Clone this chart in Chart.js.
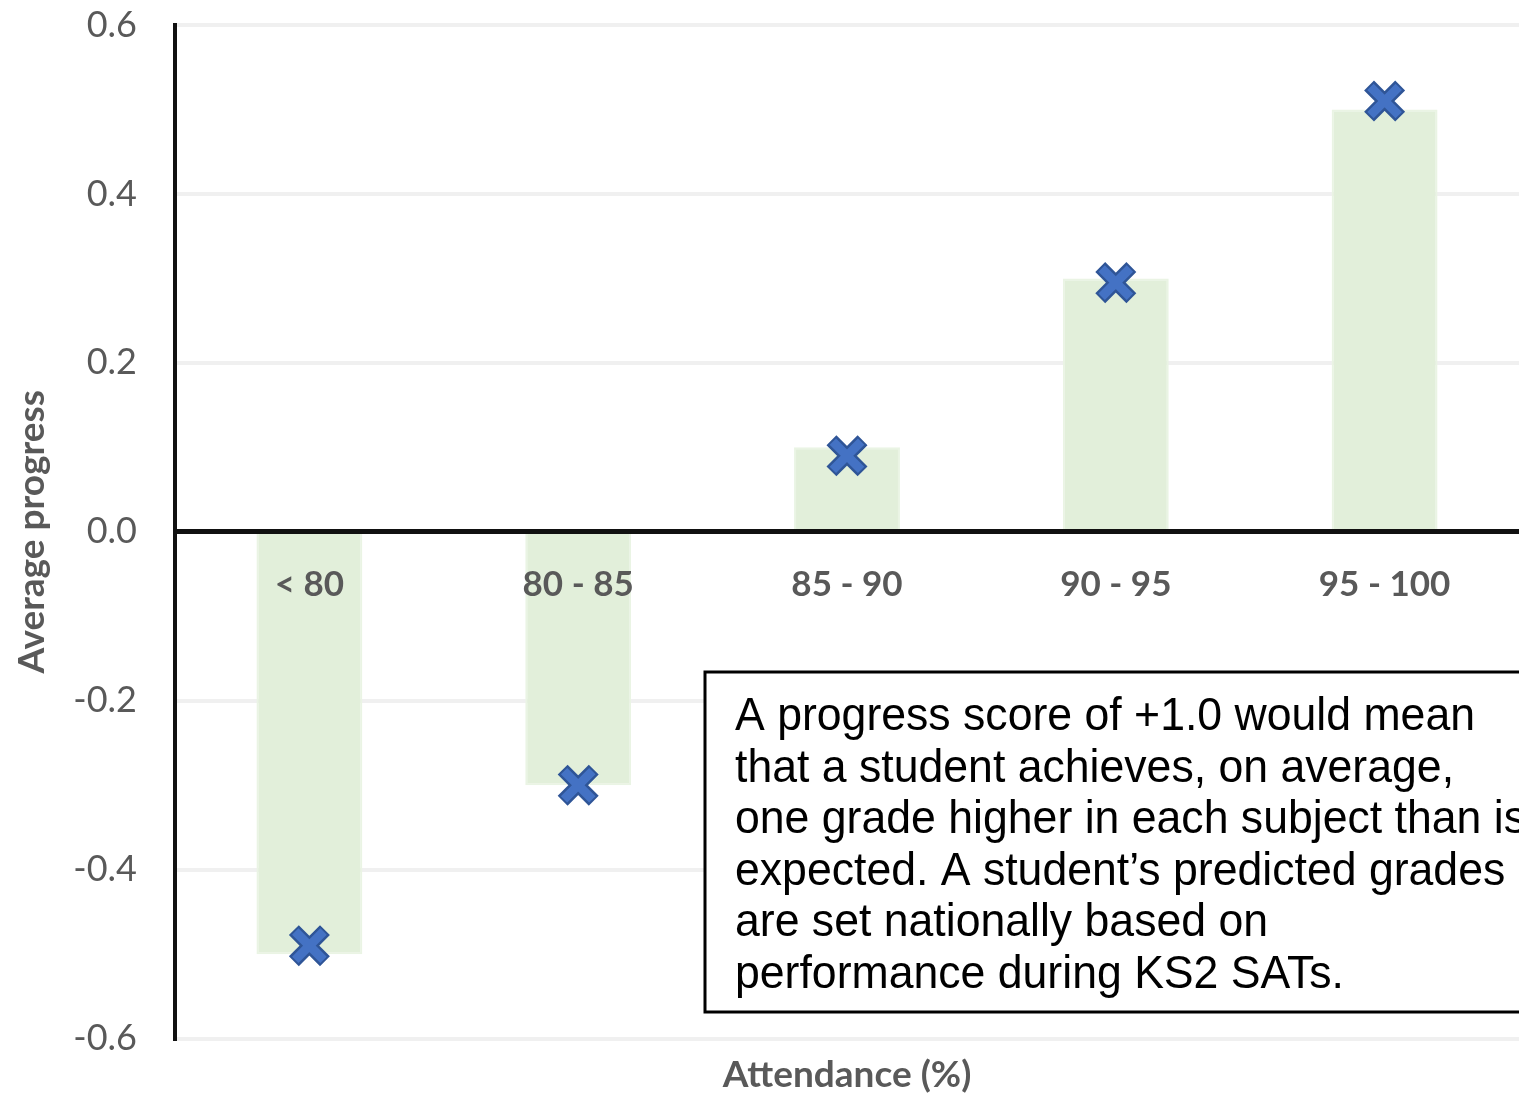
<!DOCTYPE html>
<html>
<head>
<meta charset="utf-8">
<script src="https://cdn.jsdelivr.net/npm/chart.js@4/dist/chart.umd.min.js"></script>
<style>
  html, body { margin: 0; padding: 0; background: #fff; overflow: hidden; }
  #wrap { width: 1519px; height: 1099px; position: relative; }
</style>
</head>
<body>
<div id="wrap"><canvas id="grafica"></canvas></div>
<script>
const categorias = ['< 80', '80 - 85', '85 - 90', '90 - 95', '95 - 100'];
const valoresBarras = [-0.5, -0.3, 0.1, 0.3, 0.5];
const valoresMarcas = [-0.49, -0.30, 0.09, 0.295, 0.51];
const ticksY = [-0.6, -0.4, -0.2, 0.0, 0.2, 0.4, 0.6];
const notaLineas = [
    'A progress score of +1.0 would mean',
    'that a student achieves, on average,',
    'one grade higher in each subject than is',
    'expected. A student\u2019s predicted grades',
    'are set nationally based on',
    'performance during KS2 SATs.'
];

const gris = '#595959';

// caja de texto con la nota
const notaPlugin = {
    id: 'nota',
    afterDraw(chart) {
        const ctx = chart.ctx;
        ctx.save();
        ctx.fillStyle = '#fff';
        ctx.fillRect(705, 672, 830, 340);
        ctx.strokeStyle = '#000';
        ctx.lineWidth = 3;
        ctx.strokeRect(705, 672, 830, 340);
        ctx.font = '46px "Liberation Sans", Arial, sans-serif';
        ctx.fillStyle = '#000';
        ctx.textBaseline = 'alphabetic';
        const sx = 740 / ctx.measureText(notaLineas[0]).width;
        notaLineas.forEach((linea, i) => {
            ctx.save();
            ctx.translate(735, 730 + i * 51.6);
            ctx.scale(sx, 1);
            ctx.fillText(linea, 0, 0);
            ctx.restore();
        });
        ctx.restore();
    }
};

function sinPadding(scale) {
    scale.paddingLeft = 0;
    scale.paddingRight = 0;
    scale.paddingTop = 0;
    scale.paddingBottom = 0;
}

const ctx = document.getElementById('grafica').getContext('2d');
new Chart(ctx, {
    data: {
        labels: categorias,
        datasets: [
            {
                type: 'line',
                data: valoresMarcas,
                showLine: false,
                pointStyle: 'crossRot',
                pointRadius: 20,
                pointBorderWidth: 9,
                pointBorderColor: '#4472C4',
                pointBackgroundColor: '#4472C4',
                order: 0
            },
            {
                type: 'line',
                data: valoresMarcas,
                showLine: false,
                pointStyle: 'crossRot',
                pointRadius: 22,
                pointBorderWidth: 14,
                pointBorderColor: '#2F5597',
                pointBackgroundColor: '#2F5597',
                order: 1
            },
            {
                type: 'bar',
                data: valoresBarras,
                backgroundColor: '#e2efda',
                borderColor: '#eaf4e4',
                borderWidth: 2,
                barPercentage: 0.394,
                categoryPercentage: 1,
                order: 2
            }
        ]
    },
    options: {
        responsive: true,
        maintainAspectRatio: false,
        animation: false,
        layout: { autoPadding: false, padding: { top: 25, right: 0, left: 0, bottom: 0 } },
        plugins: {
            legend: { display: false },
            tooltip: { enabled: false },
            title: {
                display: true,
                position: 'bottom',
                fullSize: false,
                text: 'Attendance (%)',
                color: gris,
                font: { family: 'Lato', size: 37, weight: 'bold' },
                padding: { top: 14, bottom: 2 }
            }
        },
        scales: {
            x: {
                type: 'category',
                position: { y: 0 },
                afterFit: sinPadding,
                grid: {
                    display: true,
                    drawOnChartArea: false,
                    tickLength: 32,
                    tickColor: 'rgba(0,0,0,0)'
                },
                border: { display: true, color: '#111', width: 5, z: 1 },
                ticks: {
                    z: 1,
                    color: gris,
                    font: { family: 'Lato', size: 35, weight: 'bold' },
                    padding: 0,
                    maxRotation: 0
                }
            },
            y: {
                min: -0.6,
                max: 0.6,
                afterBuildTicks: (scale) => {
                    scale.ticks = ticksY.map(v => ({ value: v }));
                },
                afterFit: (scale) => { sinPadding(scale); scale.width = 175; },
                grid: {
                    drawTicks: true,
                    tickLength: 38,
                    tickColor: 'rgba(0,0,0,0)',
                    lineWidth: 4,
                    color: (c) => (c.tick && Math.abs(c.tick.value) < 1e-9) ? 'rgba(0,0,0,0)' : '#f0f0f0'
                },
                border: { display: true, color: '#111', width: 4 },
                ticks: {
                    color: gris,
                    padding: 0,
                    font: { family: 'Lato', size: 36 },
                    callback: (v) => (Math.abs(v) < 1e-9 ? 0 : v).toFixed(1)
                },
                title: {
                    display: true,
                    text: 'Average progress',
                    color: gris,
                    font: { family: 'Lato', size: 37, weight: 'bold' },
                    padding: { top: 10, bottom: 0 }
                }
            }
        }
    },
    plugins: [notaPlugin]
});
</script>
</body>
</html>
